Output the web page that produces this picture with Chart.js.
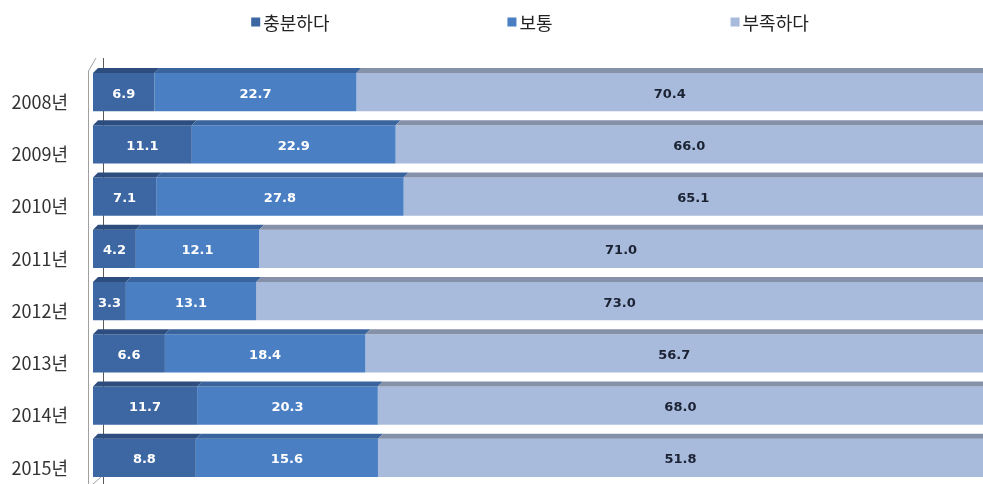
<!DOCTYPE html>
<html>
<head>
<meta charset="utf-8">
<script src="https://cdn.jsdelivr.net/npm/chart.js@4.4.1/dist/chart.umd.min.js"></script>
<style>
  html, body { margin: 0; padding: 0; background: #ffffff; overflow: hidden; }
  canvas { display: block; }
</style>
</head>
<body>
<canvas id="c" width="983" height="484"></canvas>
<script>
// Survey answers by year (%)
const years = ['2008년', '2009년', '2010년', '2011년', '2012년', '2013년', '2014년', '2015년'];
const seriesNames = ['충분하다', '보통', '부족하다'];
const enough  = [6.9, 11.1, 7.1, 4.2, 3.3, 6.6, 11.7, 8.8];
const normal  = [22.7, 22.9, 27.8, 12.1, 13.1, 18.4, 20.3, 15.6];
const lacking = [70.4, 66.0, 65.1, 71.0, 73.0, 56.7, 68.0, 51.8];

const rawSeries = [enough, normal, lacking];

// 100% stacked bars: every segment is its share of the row total
const totals = years.map((_, i) => enough[i] + normal[i] + lacking[i]);
const share = arr => arr.map((v, i) => v / totals[i] * 100);

const frontColors = ['#3c67a3', '#4b7fc4', '#a9bbdc'];
const topColors   = ['#2c4d7d', '#3a649d', '#8591a9'];
const labelColors = ['#ffffff', '#ffffff', '#1b2233'];

const DEPTH_X = 5;   // horizontal shift of the bar top face
const DEPTH_Y = 5;   // height of the bar top face

// Left wall and back axis line of the pseudo-3D frame
const wallPlugin = {
  id: 'wall',
  beforeDatasetsDraw(chart) {
    const { ctx, chartArea: a } = chart;
    ctx.save();
    // back axis line, seen in the gaps between the bars
    ctx.strokeStyle = '#5a5a5a';
    ctx.lineWidth = 1;
    ctx.beginPath();
    ctx.moveTo(a.left + 10.5, a.top - 8);
    ctx.lineTo(a.left + 10.5, a.bottom);
    ctx.stroke();
    // front edge of the wall
    ctx.strokeStyle = '#a0a0a0';
    ctx.beginPath();
    ctx.moveTo(a.left + 3, a.top - 8);
    ctx.lineTo(a.left - 4.5, a.top + 5);
    ctx.lineTo(a.left - 4.5, a.bottom);
    ctx.stroke();
    // floor edge
    ctx.beginPath();
    ctx.moveTo(a.left, a.bottom);
    ctx.lineTo(a.left + 8, a.bottom - 7);
    ctx.stroke();
    ctx.restore();
  }
};

// Top faces of the bars and the value labels
const depthPlugin = {
  id: 'depth',
  afterDatasetsDraw(chart) {
    const { ctx } = chart;
    ctx.save();
    chart.data.datasets.forEach((ds, di) => {
      const meta = chart.getDatasetMeta(di);
      meta.data.forEach((bar) => {
        const { x, y, base, height } = bar.getProps(['x', 'y', 'base', 'height'], true);
        const top = y - height / 2;
        ctx.fillStyle = topColors[di];
        ctx.beginPath();
        ctx.moveTo(base, top);
        ctx.lineTo(x, top);
        ctx.lineTo(x + DEPTH_X, top - DEPTH_Y);
        ctx.lineTo(base + DEPTH_X, top - DEPTH_Y);
        ctx.closePath();
        ctx.fill();
      });
    });
    ctx.font = 'bold 13px "DejaVu Sans", Verdana, sans-serif';
    ctx.textAlign = 'center';
    ctx.textBaseline = 'middle';
    chart.data.datasets.forEach((ds, di) => {
      const meta = chart.getDatasetMeta(di);
      meta.data.forEach((bar, i) => {
        const { x, y, base } = bar.getProps(['x', 'y', 'base'], true);
        ctx.fillStyle = labelColors[di];
        ctx.fillText(rawSeries[di][i].toFixed(1), (base + x) / 2, y + 2);
      });
    });
    ctx.restore();
  }
};

// Legend row above the plot
const legendPlugin = {
  id: 'topLegend',
  afterDraw(chart) {
    const { ctx } = chart;
    const box = 9, gapText = 3, gapItem = 178, centerX = 530, cy = 23;
    ctx.save();
    ctx.font = '18px "Noto Sans CJK KR", sans-serif';
    ctx.textBaseline = 'middle';
    ctx.textAlign = 'left';
    const widths = chart.data.datasets.map(ds => box + gapText + ctx.measureText(ds.label).width);
    const total = widths.reduce((s, w) => s + w, 0) + gapItem * (widths.length - 1);
    let x = centerX - total / 2;
    chart.data.datasets.forEach((ds, di) => {
      ctx.fillStyle = frontColors[di];
      ctx.fillRect(x, cy - box / 2 - 1, box, box);
      ctx.fillStyle = '#222222';
      ctx.fillText(ds.label, x + box + gapText, cy);
      x += widths[di] + gapItem;
    });
    ctx.restore();
  }
};

new Chart(document.getElementById('c'), {
  type: 'bar',
  data: {
    labels: years,
    datasets: rawSeries.map((arr, di) => ({
      label: seriesNames[di],
      data: share(arr),
      backgroundColor: frontColors[di],
      borderWidth: 0,
      barPercentage: 0.73,
      categoryPercentage: 1.0
    }))
  },
  options: {
    indexAxis: 'y',
    responsive: false,
    maintainAspectRatio: false,
    animation: false,
    layout: { padding: { top: 66, right: 0, bottom: 0, left: 0 } },
    plugins: {
      legend: { display: false },
      tooltip: { enabled: false }
    },
    scales: {
      x: {
        stacked: true,
        display: false,
        min: 0,
        max: 100
      },
      y: {
        stacked: true,
        grid: { display: false, drawTicks: false },
        border: { display: false },
        ticks: {
          padding: 25,
          labelOffset: 10,
          color: '#333333',
          font: { family: '"Noto Sans CJK KR", sans-serif', size: 18 }
        },
        afterFit(scale) {
          scale.width = 93;
          // the plot runs to the bottom edge of the canvas
          scale.paddingTop = 0;
          scale.paddingBottom = 0;
        }
      }
    }
  },
  plugins: [wallPlugin, depthPlugin, legendPlugin]
});
</script>
</body>
</html>
